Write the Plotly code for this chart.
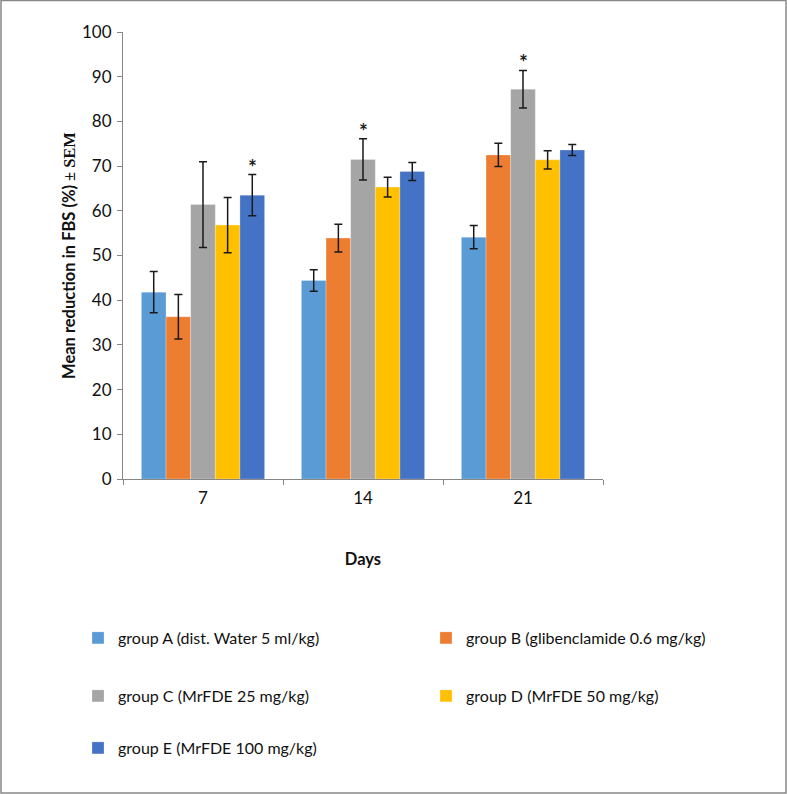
import plotly.graph_objects as go

days = ["7", "14", "21"]
groups = [
    "group A (dist. Water 5 ml/kg)",
    "group B (glibenclamide 0.6 mg/kg)",
    "group C (MrFDE 25 mg/kg)",
    "group D (MrFDE 50 mg/kg)",
    "group E (MrFDE 100 mg/kg)",
]
colors = ["#5B9BD5", "#ED7D31", "#A5A5A5", "#FFC000", "#4472C4"]

mean_A = [41.8, 44.4, 54.1]
mean_B = [36.3, 53.9, 72.5]
mean_C = [61.4, 71.5, 87.2]
mean_D = [56.8, 65.3, 71.4]
mean_E = [63.5, 68.8, 73.6]

sem_A = [4.6, 2.4, 2.6]
sem_B = [5.0, 3.1, 2.6]
sem_C = [9.6, 4.6, 4.2]
sem_D = [6.2, 2.2, 2.05]
sem_E = [4.6, 2.0, 1.25]

means = [mean_A, mean_B, mean_C, mean_D, mean_E]
sems = [sem_A, sem_B, sem_C, sem_D, sem_E]

# significance markers: (day index, group index)
sig_marks = [(0, 4), (1, 2), (2, 2)]

FONT = "Lato"
W, H = 787, 794
L, R, T, B = 123, 184, 32, 315
plot_w = W - L - R
plot_h = H - T - B

# legend text start positions (pixels) for each group entry
leg_pos = [(118, 638), (466, 638), (118, 696), (466, 696), (118, 748)]

def py(pix):
    return (T + plot_h - pix) / plot_h

def px(pix):
    return (pix - L) / plot_w

fig = go.Figure()
leg_layout = {}
for i in range(5):
    lid = "legend" if i == 0 else f"legend{i + 1}"
    fig.add_trace(go.Bar(
        x=days, y=means[i], name=groups[i],
        marker=dict(color=colors[i], line=dict(color="rgba(255,255,255,0.5)", width=0.5)),
        error_y=dict(type="data", array=sems[i], visible=True, color="#1a1a1a",
                     thickness=1.5, width=4),
        legend=lid, showlegend=True,
    ))
    tx, ty = leg_pos[i]
    leg_layout[lid] = dict(
        orientation="h", x=px(tx - 40), y=py(ty), xanchor="left", yanchor="middle",
        font=dict(family=FONT, size=16, color="#111"), bgcolor="rgba(0,0,0,0)",
        itemclick=False, itemdoubleclick=False, visible=True,
    )

bargap = 0.23
bar_w = (1 - bargap) / 5
for d, g in sig_marks:
    xpos = d + (g - 2) * bar_w
    fig.add_annotation(
        x=xpos, y=means[g][d] + sems[g][d], xref="x", yref="y",
        text="<b>*</b>", showarrow=False, yanchor="bottom", yshift=-6,
        font=dict(family=FONT, size=21, color="#1a1a1a"),
    )

fig.update_layout(
    width=W, height=H,
    margin=dict(l=L, r=R, t=T, b=B),
    paper_bgcolor="white", plot_bgcolor="white",
    showlegend=True,
    barmode="group", bargap=bargap, bargroupgap=0,
    font=dict(family=FONT, size=17, color="#111"),
    xaxis=dict(
        type="category", showline=True, linecolor="#868686", linewidth=1,
        ticks="outside", tickson="boundaries", ticklen=5, tickcolor="#868686",
        tickfont=dict(family=FONT, size=17, color="#111"), ticklabelstandoff=4,
        title=dict(text="<b>Days</b>", font=dict(family=FONT, size=16.5, color="#111"), standoff=46),
        showgrid=False,
    ),
    yaxis=dict(
        range=[0, 100], dtick=10, showline=True, linecolor="#868686", linewidth=1,
        ticks="outside", ticklen=5, tickcolor="#868686", showgrid=False, zeroline=False,
        tickfont=dict(family=FONT, size=17, color="#111"), ticklabelstandoff=2,
        title=dict(text="<b>Mean reduction in FBS (%) <span style='font-family:Liberation Serif'>± SEM</span></b>",
                   font=dict(family=FONT, size=16.5, color="#111"), standoff=2),
    ),
    **leg_layout,
)

fig.add_shape(type="rect", xref="paper", yref="paper",
              x0=px(1), x1=px(786), y0=py(793), y1=py(0.5),
              line=dict(color="#888888", width=1.5), fillcolor="rgba(0,0,0,0)", layer="below")

fig.write_html("out.html", config={"displayModeBar": False},
               post_script="document.body.style.margin='0';")
